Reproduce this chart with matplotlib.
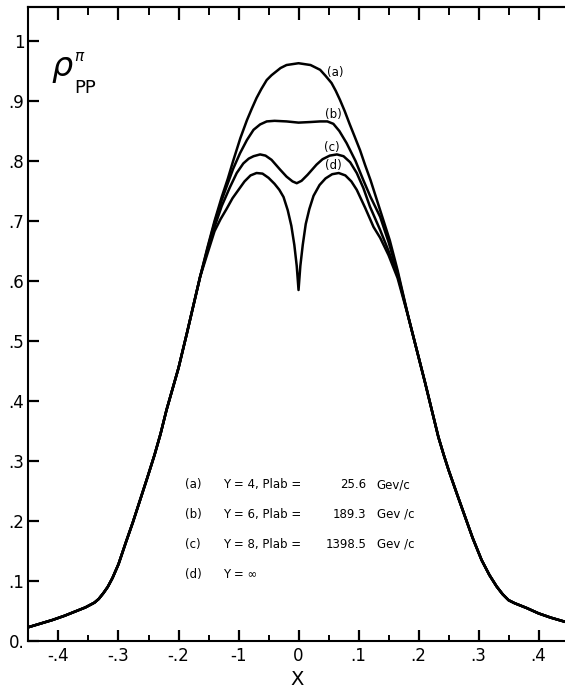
import numpy as np
import matplotlib.pyplot as plt

# shared flanks (all four curves coincide out here)
tail_left_x = [-0.45, -0.43, -0.41, -0.39, -0.37, -0.355, -0.34, -0.333, -0.325, -0.318, -0.31, -0.30,
               -0.2875, -0.276, -0.264, -0.252, -0.24, -0.23, -0.22, -0.21, -0.20, -0.186, -0.175, -0.164]
tail_left_y = [0.023, 0.029, 0.035, 0.042, 0.050, 0.056, 0.064, 0.070, 0.080, 0.090, 0.105, 0.128,
               0.165, 0.198, 0.235, 0.272, 0.310, 0.345, 0.385, 0.420, 0.455, 0.513, 0.560, 0.607]
tail_right_x = [0.183, 0.197, 0.211, 0.222, 0.233, 0.242, 0.25, 0.264, 0.2775, 0.29, 0.305, 0.318,
                0.33, 0.34, 0.35, 0.36, 0.38, 0.40, 0.42, 0.444]
tail_right_y = [0.540, 0.485, 0.430, 0.385, 0.340, 0.310, 0.285, 0.245, 0.207, 0.172, 0.135, 0.110,
                0.091, 0.078, 0.068, 0.063, 0.055, 0.046, 0.039, 0.032]

# central parts of each curve
a_x = [-0.152, -0.14, -0.128, -0.118, -0.109, -0.097, -0.086, -0.078, -0.07, -0.062, -0.053, -0.045, -0.03, -0.02,
       0.0, 0.02, 0.036, 0.045, 0.055, 0.062, 0.069, 0.077, 0.085, 0.093, 0.1025, 0.111, 0.12, 0.136, 0.152, 0.165]
a_y = [0.655, 0.700, 0.740, 0.770, 0.800, 0.838, 0.868, 0.887, 0.905, 0.920, 0.935, 0.943, 0.955, 0.960,
       0.963, 0.960, 0.952, 0.942, 0.930, 0.917, 0.902, 0.883, 0.862, 0.842, 0.818, 0.793, 0.768, 0.718, 0.668, 0.618]
b_x = [-0.152, -0.14, -0.128, -0.12, -0.109, -0.0975, -0.086, -0.075, -0.064, -0.053, -0.04, -0.02, 0.0, 0.02,
       0.036, 0.048, 0.058, 0.068, 0.08, 0.095, 0.108, 0.12, 0.136, 0.15, 0.165]
b_y = [0.653, 0.697, 0.735, 0.757, 0.787, 0.813, 0.835, 0.852, 0.861, 0.866, 0.867, 0.866, 0.864, 0.865,
       0.866, 0.866, 0.862, 0.850, 0.830, 0.800, 0.768, 0.740, 0.707, 0.665, 0.614]
c_x = [-0.152, -0.14, -0.128, -0.114, -0.103, -0.092, -0.083, -0.075, -0.064, -0.055, -0.045, -0.031, -0.02, -0.01,
       -0.003, 0.005, 0.015, 0.03, 0.04, 0.052, 0.064, 0.075, 0.086, 0.097, 0.108, 0.119, 0.136, 0.15, 0.165]
c_y = [0.650, 0.690, 0.725, 0.757, 0.780, 0.796, 0.804, 0.808, 0.811, 0.809, 0.802, 0.786, 0.774, 0.766,
       0.763, 0.767, 0.777, 0.794, 0.803, 0.809, 0.811, 0.808, 0.798, 0.780, 0.755, 0.724, 0.685, 0.650, 0.610]
d_x = [-0.152, -0.14, -0.13, -0.12, -0.11, -0.10, -0.09, -0.08, -0.07, -0.06, -0.05, -0.04, -0.032, -0.025, -0.018,
       -0.012, -0.007, -0.003, 0.0, 0.003, 0.007, 0.012, 0.018, 0.025, 0.035, 0.045, 0.056, 0.067, 0.078,
       0.088, 0.097, 0.111, 0.125, 0.136, 0.15, 0.165]
d_y = [0.645, 0.683, 0.703, 0.720, 0.738, 0.752, 0.766, 0.776, 0.780, 0.779, 0.772, 0.762, 0.752, 0.740, 0.718,
       0.692, 0.660, 0.625, 0.585, 0.625, 0.660, 0.695, 0.720, 0.742, 0.760, 0.771, 0.778, 0.780, 0.776,
       0.766, 0.752, 0.722, 0.690, 0.672, 0.643, 0.605]

curve_labels = ["(a)", "(b)", "(c)", "(d)"]
curve_label_x = [0.061, 0.058, 0.056, 0.058]
curve_label_y = [0.947, 0.877, 0.823, 0.792]

legend_tags = ["(a)", "(b)", "(c)", "(d)"]
legend_y_vals = ["Y = 4, Plab =", "Y = 6, Plab =", "Y = 8, Plab =", "Y = \u221e"]
legend_plab = ["25.6", "189.3", "1398.5", ""]
legend_unit = ["Gev/c", "Gev /c", "Gev /c", ""]

x_ticks = [-0.4, -0.3, -0.2, -0.1, 0.0, 0.1, 0.2, 0.3, 0.4]
x_ticklabels = ["-.4", "-.3", "-.2", "-1", "0", ".1", ".2", ".3", ".4"]
y_ticks = [0.0, 0.1, 0.2, 0.3, 0.4, 0.5, 0.6, 0.7, 0.8, 0.9, 1.0]
y_ticklabels = ["0.", ".1", ".2", ".3", ".4", ".5", ".6", ".7", ".8", ".9", "1"]

plt.rcParams['font.family'] = ['DejaVu Sans']

fig = plt.figure(figsize=(5.65, 6.94), dpi=100)
ax = fig.add_axes([0.0504, 0.0764, 0.9496, 0.9135])

for cx, cy in [(a_x, a_y), (b_x, b_y), (c_x, c_y), (d_x, d_y)]:
    xs = np.concatenate([tail_left_x, cx, tail_right_x])
    ys = np.concatenate([tail_left_y, cy, tail_right_y])
    ax.plot(xs, ys, color='black', lw=1.8, solid_joinstyle='round')

ax.set_xlim(-0.45, 0.444)
ax.set_ylim(0, 1.0567)

ax.spines['right'].set_visible(False)
for s in ['left', 'bottom', 'top']:
    ax.spines[s].set_linewidth(1.5)

ax.set_xticks(x_ticks)
ax.set_xticklabels(x_ticklabels, fontsize=12)
ax.set_xticks(np.arange(-0.45, 0.45, 0.1), minor=True)
ax.set_yticks(y_ticks)
ax.set_yticklabels(y_ticklabels, fontsize=12)
ax.tick_params(axis='x', which='major', direction='in', length=8, width=1.6, pad=4)
ax.tick_params(axis='x', which='minor', direction='in', length=4, width=1.4)
ax.tick_params(axis='y', which='major', direction='in', length=8, width=1.6, pad=3)
ax.tick_params(axis='y', which='minor', left=False)

top = ax.secondary_xaxis('top')
top.set_xticks(x_ticks)
top.set_xticks(np.arange(-0.45, 0.45, 0.1), minor=True)
top.set_xticklabels([])
top.tick_params(which='major', direction='in', length=9.5, width=1.6)
top.tick_params(which='minor', direction='in', length=5.5, width=1.4)
top.spines['top'].set_linewidth(1.5)

ax.set_xlabel("X", fontsize=14, labelpad=4)

for lab, lx, ly in zip(curve_labels, curve_label_x, curve_label_y):
    ax.text(lx, ly, lab, fontsize=8.5, ha='center', va='center')

row_y = [0.260, 0.211, 0.161, 0.110]
for tag, yv, pl, un, ry in zip(legend_tags, legend_y_vals, legend_plab, legend_unit, row_y):
    ax.text(-0.189, ry, tag, fontsize=8.5, va='center')
    ax.text(-0.126, ry, yv, fontsize=8.5, va='center')
    if pl:
        ax.text(0.113, ry, pl, fontsize=8.5, va='center', ha='right')
        ax.text(0.130, ry, un, fontsize=8.5, va='center')

ax.text(-0.394, 0.955, r'$\rho$', fontsize=24, ha='center', va='center')
ax.text(-0.364, 0.975, r'$\pi$', fontsize=11, ha='center', va='center')
ax.text(-0.356, 0.921, "PP", fontsize=13, ha='center', va='center')

fig.savefig("out.png", dpi=100)
